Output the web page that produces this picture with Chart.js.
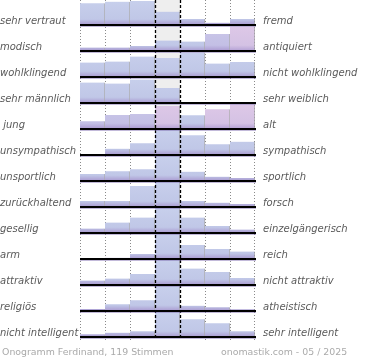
<!DOCTYPE html>
<html><head><meta charset="utf-8">
<script src="https://cdn.jsdelivr.net/npm/chart.js@4/dist/chart.umd.min.js"></script>
<style>
html,body{margin:0;padding:0;background:#fff;}
#wrap{position:relative;width:370px;height:360px;overflow:hidden;}
canvas{position:absolute;left:0;top:0;}
.foot{position:absolute;top:346px;font-family:"DejaVu Sans";font-size:9.4px;line-height:11px;color:#aaaaaa;white-space:nowrap;}
</style></head><body>
<div id="wrap"><canvas id="c" width="370" height="360"></canvas>
<div class="foot" style="left:2px">Onogramm Ferdinand, 119 Stimmen</div>
<div class="foot" style="left:221px">onomastik.com - 05 / 2025</div></div>
<script>
// seven answer steps between the two opposite adjectives
const categories = ['1','2','3','4','5','6','7'];
const leftLabels = ['sehr vertraut','modisch','wohlklingend','sehr männlich',' jung','unsympathisch','unsportlich','zurückhaltend','gesellig','arm','attraktiv','religiös','nicht intelligent'];
const rightLabels = ['fremd','antiquiert','nicht wohlklingend','sehr weiblich','alt','sympathisch','sportlich','forsch','einzelgängerisch','reich','nicht attraktiv','atheistisch','sehr intelligent'];

// bar heights per row (row height = 26 units, values above ~25 are clipped at the row top)
const vertraut     = [21.7, 23.3, 24.0, 13.3, 6.0, 2.3, 6.0];
const modisch      = [3.5, 3.5, 5.0, 10.5, 9.5, 17.0, 24.5];
const wohlklingend = [14.5, 15.5, 20.5, 19.0, 24.5, 13.5, 15.0];
const maennlich    = [20.5, 19.5, 23.5, 15.0, 0, 0, 0];
const jung         = [7.7, 14.0, 15.0, 23.0, 13.7, 19.7, 24.7];
const sympathisch  = [0, 6.3, 11.7, 25, 19.7, 10.7, 13.3];
const sportlich    = [7.0, 9.7, 11.7, 25, 9.3, 4.3, 3.0];
const forsch       = [6.0, 6.0, 21.0, 25, 6.0, 4.3, 3.0];
const gesellig     = [4.5, 10.5, 15.5, 25, 15.5, 7.0, 3.5];
const reich        = [0, 1.2, 5.0, 25, 14.0, 10.0, 7.5];
const attraktiv    = [4.5, 6.5, 11.0, 25, 16.5, 13.0, 7.0];
const religioes    = [2.0, 6.7, 10.7, 25, 5.3, 3.7, 1.7];
const intelligent  = [2.7, 4.3, 5.7, 25, 17.7, 13.7, 5.7];
const rows = [vertraut, modisch, wohlklingend, maennlich, jung, sympathisch, sportlich, forsch, gesellig, reich, attraktiv, religioes, intelligent];

// styling (not data)
const ROW = 26, CAP = 25;
const baseOf = i => (i + 1) * ROW - 1;
const tones = {1: {5: 'l', 6: 'p'}, 4: {0: 'l', 1: 'l', 2: 'l', 3: 'p', 5: 'p', 6: 'p'}};
const palette = {
  b: ['#c8d0ec', '#c0c7e7', '#a999d0'],
  l: ['#cbc8e8', '#c3bfe5', '#aa98d0'],
  p: ['#dec8e7', '#d4c2e4', '#b29fd4']
};

const datasets = rows.map((vals, r) => ({
  label: leftLabels[r] + ' / ' + rightLabels[r],
  data: vals.map(v => [baseOf(r) - Math.min(v, CAP), baseOf(r)]),
  grouped: false,
  barPercentage: 1,
  categoryPercentage: 1,
  borderSkipped: 'bottom',
  borderColor: 'rgba(135,135,135,0.7)',
  borderWidth: ctx => (vals[ctx.dataIndex] > 0 ? {top: 1, right: 1, left: 0, bottom: 0} : 0),
  backgroundColor: ctx => {
    const chart = ctx.chart;
    const tone = (tones[r] && tones[r][ctx.dataIndex]) || 'b';
    const c = palette[tone];
    if (!chart.chartArea || !chart.scales.y) return c[0];
    const y = chart.scales.y;
    const g = chart.ctx.createLinearGradient(0, y.getPixelForValue(baseOf(r) - ROW), 0, y.getPixelForValue(baseOf(r)));
    g.addColorStop(0, c[0]);
    g.addColorStop(0.78, c[1]);
    g.addColorStop(1, c[2]);
    return g;
  }
}));

function colEdges(chart) {
  const x = chart.scales.x;
  const half = (x.getPixelForValue(1) - x.getPixelForValue(0)) / 2;
  const edges = categories.map((_, i) => x.getPixelForValue(i) - half);
  edges.push(x.getPixelForValue(categories.length - 1) + half);
  return edges;
}

const decor = {
  id: 'decor',
  beforeDatasetsDraw(chart) {
    const ctx = chart.ctx, y = chart.scales.y;
    const e = colEdges(chart);
    const top = y.getPixelForValue(0), bot = y.getPixelForValue(baseOf(rows.length - 1));
    ctx.save();
    ctx.fillStyle = '#eeeeee';
    ctx.fillRect(Math.round(e[3]), top, Math.round(e[4]) - Math.round(e[3]), bot - top);
    ctx.strokeStyle = '#8a8a8a';
    ctx.lineWidth = 1;
    ctx.setLineDash([1, 2]);
    [0, 1, 2, 5, 6, 7].forEach(k => {
      const xx = Math.round(e[k]) + 0.5 - (k === 7 ? 1 : 0);
      ctx.beginPath(); ctx.moveTo(xx, top); ctx.lineTo(xx, bot + 3); ctx.stroke();
    });
    ctx.restore();
  },
  afterDatasetsDraw(chart) {
    const ctx = chart.ctx, y = chart.scales.y;
    const e = colEdges(chart);
    const top = y.getPixelForValue(0), bot = y.getPixelForValue(baseOf(rows.length - 1));
    ctx.save();
    ctx.strokeStyle = '#000';
    ctx.lineWidth = 1.3;
    ctx.setLineDash([3, 2]);
    [3, 4].forEach(k => {
      const xx = Math.round(e[k]) + 0.5;
      ctx.beginPath(); ctx.moveTo(xx, top); ctx.lineTo(xx, bot + 2); ctx.stroke();
    });
    ctx.setLineDash([]);
    rows.forEach((_, r) => {
      const yy = Math.round(y.getPixelForValue(baseOf(r)));
      ctx.fillStyle = 'rgba(120,100,170,0.45)';
      ctx.fillRect(Math.round(e[0]), yy + 1, Math.round(e[7]) - Math.round(e[0]) + 1, 1);
      ctx.fillStyle = '#000';
      ctx.fillRect(Math.round(e[0]), yy - 1, Math.round(e[7]) - Math.round(e[0]) + 1, 2);
    });
    ctx.restore();
  }
};

const labelFont = {family: 'DejaVu Sans', size: 10, style: 'italic'};
const tickPos = r => baseOf(r) - 3.5;
const noPad = s => { s.paddingTop = 0; s.paddingBottom = 0; };

new Chart(document.getElementById('c'), {
  type: 'bar',
  data: {labels: categories, datasets},
  options: {
    responsive: false,
    animation: false,
    events: [],
    layout: {padding: {top: 0, bottom: 20, left: 0, right: 0}},
    plugins: {legend: {display: false}, tooltip: {enabled: false}, title: {display: false}},
    scales: {
      x: {type: 'category', offset: true, display: false, grid: {display: false}},
      y: {
        type: 'linear', position: 'left', reverse: true, min: 0, max: 340,
        grid: {display: false, drawTicks: false}, border: {display: false},
        afterBuildTicks: s => { s.ticks = leftLabels.map((_, r) => ({value: tickPos(r)})); },
        afterFit: s => { s.width = 80; noPad(s); },
        ticks: {autoSkip: false, crossAlign: 'far', padding: 0, color: '#5a5a5a', font: labelFont,
          callback: (v, i) => leftLabels[i]}
      },
      y2: {
        type: 'linear', position: 'right', reverse: true, min: 0, max: 340,
        grid: {display: false, drawTicks: false}, border: {display: false},
        afterBuildTicks: s => { s.ticks = rightLabels.map((_, r) => ({value: tickPos(r)})); },
        afterFit: s => { s.width = 115; noPad(s); },
        ticks: {autoSkip: false, padding: 8, color: '#5a5a5a', font: labelFont,
          callback: (v, i) => rightLabels[i]}
      }
    }
  },
  plugins: [decor]
});
</script>
</body></html>
